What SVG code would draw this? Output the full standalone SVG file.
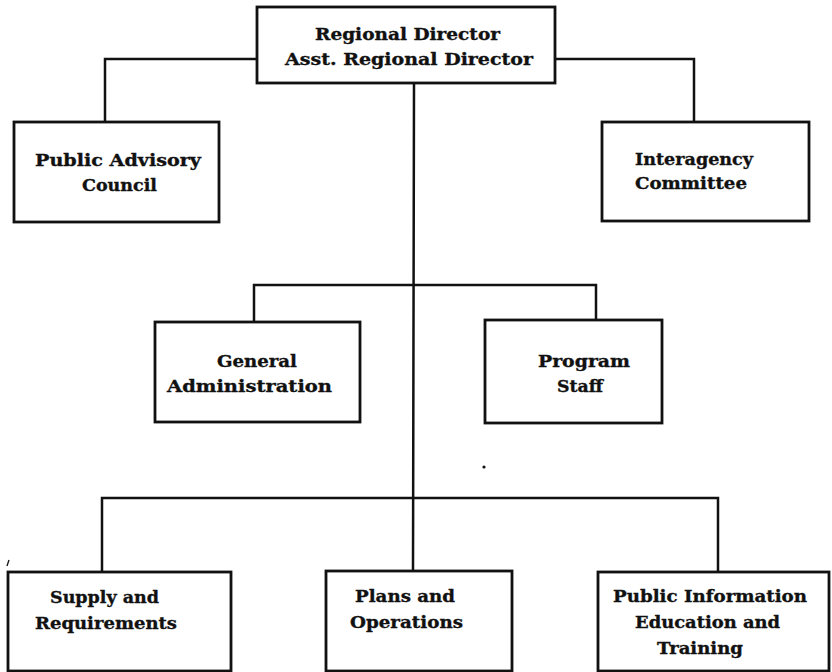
<svg xmlns="http://www.w3.org/2000/svg" width="832" height="672" viewBox="0 0 832 672">
  <style>
    .box { fill: #ffffff; stroke: #111111; stroke-width: 2.8; }
    .wire { fill: none; stroke: #111111; stroke-width: 2.5; stroke-linecap: square; }
    .lbl { font-family: "DejaVu Serif", "Liberation Serif", serif; font-weight: bold; font-size: 17px; fill: #111111; stroke: #111111; stroke-width: 0.35; }
  </style>
  <rect x="0" y="0" width="832" height="672" fill="#ffffff"/>

  <g id="connectors">
    <!-- director to advisory bodies -->
    <polyline class="wire" points="257,59 105,59 105,122"/>
    <polyline class="wire" points="555,59 694,59 694,122"/>
    <!-- main trunk -->
    <polyline class="wire" points="414,83 413,571"/>
    <!-- staff level -->
    <polyline class="wire" points="254,322 254,285 596,285 596,320"/>
    <!-- operating divisions -->
    <polyline class="wire" points="102,572 102,498 718,498 718,572"/>
  </g>

  <g id="regional-director">
    <rect class="box" x="257" y="7" width="298" height="76"/>
    <text class="lbl" x="315" y="40" textLength="185" lengthAdjust="spacingAndGlyphs">Regional Director</text>
    <text class="lbl" x="285" y="65" textLength="248" lengthAdjust="spacingAndGlyphs">Asst. Regional Director</text>
  </g>

  <g id="public-advisory-council">
    <rect class="box" x="14" y="122" width="205" height="100"/>
    <text class="lbl" x="35" y="166" textLength="166" lengthAdjust="spacingAndGlyphs">Public Advisory</text>
    <text class="lbl" x="82" y="191" textLength="75" lengthAdjust="spacingAndGlyphs">Council</text>
  </g>

  <g id="interagency-committee">
    <rect class="box" x="602" y="122" width="207" height="99"/>
    <text class="lbl" x="635" y="165" textLength="118" lengthAdjust="spacingAndGlyphs">Interagency</text>
    <text class="lbl" x="635" y="189" textLength="112" lengthAdjust="spacingAndGlyphs">Committee</text>
  </g>

  <g id="general-administration">
    <rect class="box" x="155" y="322" width="205" height="100"/>
    <text class="lbl" x="217" y="367" textLength="80" lengthAdjust="spacingAndGlyphs">General</text>
    <text class="lbl" x="167" y="392" textLength="165" lengthAdjust="spacingAndGlyphs">Administration</text>
  </g>

  <g id="program-staff">
    <rect class="box" x="485" y="320" width="177" height="103"/>
    <text class="lbl" x="538" y="367" textLength="92" lengthAdjust="spacingAndGlyphs">Program</text>
    <text class="lbl" x="557" y="392" textLength="46" lengthAdjust="spacingAndGlyphs">Staff</text>
  </g>

  <g id="supply-and-requirements">
    <rect class="box" x="8" y="572" width="223" height="99"/>
    <text class="lbl" x="50" y="603" textLength="109" lengthAdjust="spacingAndGlyphs">Supply and</text>
    <text class="lbl" x="35" y="629" textLength="142" lengthAdjust="spacingAndGlyphs">Requirements</text>
  </g>

  <g id="plans-and-operations">
    <rect class="box" x="326" y="571" width="186" height="100"/>
    <text class="lbl" x="355" y="602" textLength="100" lengthAdjust="spacingAndGlyphs">Plans and</text>
    <text class="lbl" x="350" y="628" textLength="113" lengthAdjust="spacingAndGlyphs">Operations</text>
  </g>

  <g id="public-information">
    <rect class="box" x="598" y="572" width="231" height="99"/>
    <text class="lbl" x="613" y="602" textLength="194" lengthAdjust="spacingAndGlyphs">Public Information</text>
    <text class="lbl" x="635" y="628" textLength="145" lengthAdjust="spacingAndGlyphs">Education and</text>
    <text class="lbl" x="657" y="654" textLength="86" lengthAdjust="spacingAndGlyphs">Training</text>
  </g>

  <!-- small specks on the sheet -->
  <circle cx="484" cy="467" r="1.6" fill="#111111"/>
  <path d="M7,566 L9,560" stroke="#111111" stroke-width="1.3" fill="none"/>
</svg>
